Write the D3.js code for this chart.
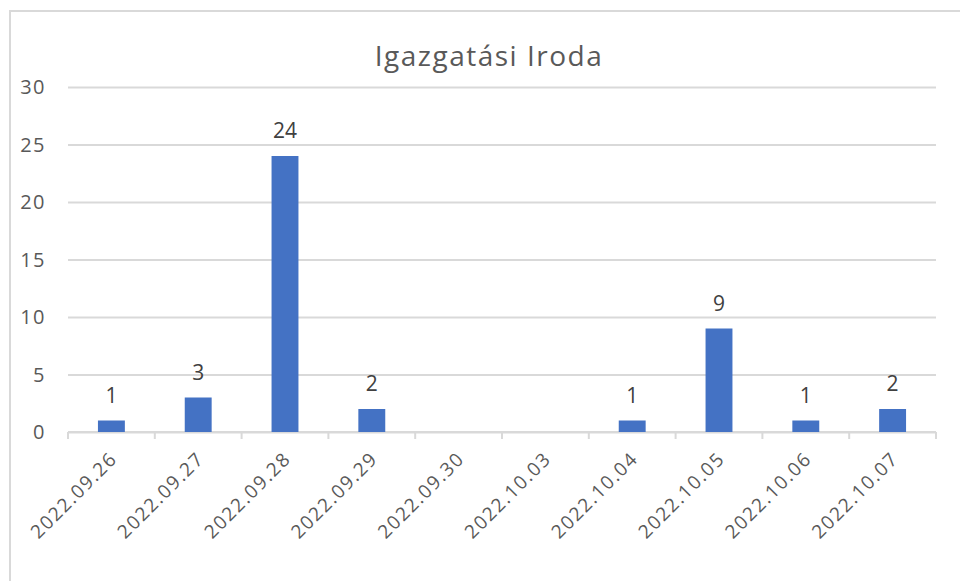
<!DOCTYPE html>
<html>
<head>
  <script src="https://d3js.org/d3.v7.min.js"></script>
  <style>
    body { margin: 0; background: #fff; }
    text { font-family: "Open Sans", sans-serif; fill: #595959; }
    .grid line { stroke: #d9d9d9; stroke-width: 2; }
    .grid path { display: none; }
    .axis--x path, .axis--x line { stroke: #d9d9d9; stroke-width: 2; }
    .bar { fill: #4472c4; }
  </style>
</head>
<body>
  <svg width="960" height="581"></svg>
  <script>
    var categories = ["2022.09.26", "2022.09.27", "2022.09.28", "2022.09.29", "2022.09.30",
                      "2022.10.03", "2022.10.04", "2022.10.05", "2022.10.06", "2022.10.07"];
    var values = [1, 3, 24, 2, 0, 0, 1, 9, 1, 2];
    var yTicks = [0, 5, 10, 15, 20, 25, 30];
    var title = "Igazgatási Iroda";

    var svg = d3.select("svg"),
      margin = {top: 87, right: 24, bottom: 149, left: 68},
      width = +svg.attr("width") - margin.left - margin.right,
      height = +svg.attr("height") - margin.top - margin.bottom;

    // chart border
    svg.append("rect")
      .attr("x", 10).attr("y", 11)
      .attr("width", 960).attr("height", 600)
      .attr("fill", "none")
      .attr("stroke", "#d9d9d9")
      .attr("stroke-width", 2);

    svg.append("text")
      .attr("x", 489).attr("y", 66)
      .attr("text-anchor", "middle")
      .style("font-size", "28px")
      .style("letter-spacing", "1.5px")
      .text(title);

    var x = d3.scaleBand().domain(categories).range([0, width]).paddingInner(0.69).paddingOuter(0.345),
      xb = d3.scaleBand().domain(categories).range([0, width]),
      y = d3.scaleLinear().domain([0, 30]).range([height, 0]);

    var g = svg.append("g")
      .attr("transform", "translate(" + margin.left + "," + margin.top + ")");

    g.append("g")
      .attr("class", "grid")
      .call(d3.axisLeft(y).tickValues(yTicks).tickSize(-width).tickFormat(""));

    g.selectAll(".ylab")
      .data(yTicks)
      .enter().append("text")
      .attr("class", "ylab")
      .attr("x", -22)
      .attr("y", function(d) { return y(d); })
      .attr("dy", "0.35em")
      .attr("text-anchor", "end")
      .style("font-size", "20px")
      .style("letter-spacing", "1.5px")
      .text(function(d) { return d; });

    // x axis with ticks at category boundaries
    var xAxis = g.append("g")
      .attr("class", "axis axis--x")
      .attr("transform", "translate(0," + height + ")");
    xAxis.append("line").attr("x1", 0).attr("x2", width).attr("y1", 0).attr("y2", 0);
    xAxis.selectAll(".tick")
      .data(categories.concat([null]))
      .enter().append("line")
      .attr("x1", function(d, i) { return i * xb.step(); })
      .attr("x2", function(d, i) { return i * xb.step(); })
      .attr("y1", 0).attr("y2", 7);

    g.selectAll(".xlab")
      .data(categories)
      .enter().append("text")
      .attr("class", "xlab")
      .attr("text-anchor", "end")
      .style("font-size", "19px")
      .style("letter-spacing", "1.6px")
      .attr("transform", function(d) {
        return "translate(" + (xb(d) + xb.bandwidth() / 2 + 7) + "," + (height + 28) + ") rotate(-45)";
      })
      .text(function(d) { return d; });

    var data = categories.map(function(c, i) { return {name: c, value: values[i]}; });

    g.selectAll(".bar")
      .data(data.filter(function(d) { return d.value > 0; }))
      .enter().append("rect")
      .attr("class", "bar")
      .attr("x", function(d) { return x(d.name); })
      .attr("y", function(d) { return y(d.value); })
      .attr("width", x.bandwidth())
      .attr("height", function(d) { return height - y(d.value); });

    g.selectAll(".dlab")
      .data(data.filter(function(d) { return d.value > 0; }))
      .enter().append("text")
      .attr("class", "dlab")
      .attr("x", function(d) { return x(d.name) + x.bandwidth() / 2; })
      .attr("y", function(d) { return y(d.value) - 18; })
      .attr("text-anchor", "middle")
      .style("font-size", "21px")
      .style("fill", "#404040")
      .text(function(d) { return d.value; });
  </script>
</body>
</html>
